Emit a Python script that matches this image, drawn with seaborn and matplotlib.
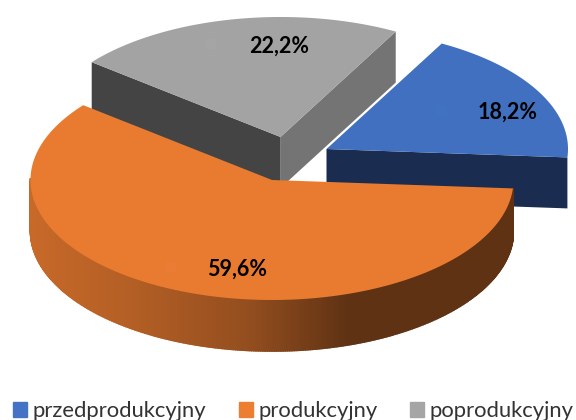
import numpy as np
import matplotlib
matplotlib.use("Agg")
import matplotlib.pyplot as plt
from matplotlib.colors import to_rgb
from matplotlib.patches import Patch
import seaborn as sns

categories = ["przedprodukcyjny", "produkcyjny", "poprodukcyjny"]
shares = [18.2, 59.6, 22.2]
labels = ["18,2%", "59,6%", "22,2%"]
face_colors = ["#4472C4", "#ED7D31", "#A5A5A5"]
top_colors = ["#4170C0", "#E97B30", "#A3A3A3"]
key_colors = ["#4072C2", "#EA7D33", "#A5A5A5"]
wall_colors = {"blue": "#1A2C50", "grey_right": "#747474", "grey_left": "#444444"}
start_angle = 61.5
centers = [(326.5, 149), (272, 180), (280.5, 137)]
depth = 51
rx, ry = 241.5, 120
label_pos = [(508, 112), (237, 269), (279, 46)]
key_pos = [(441, 111), (171, 267), (211, 44)]

sns.set_theme(style="white")
plt.rcParams["font.family"] = ["Lato", "DejaVu Sans"]
fig, ax = plt.subplots(figsize=(5.76, 4.20), dpi=100)
ax.set_position([0, 0, 1, 1])
ax.set_xlim(0, 576)
ax.set_ylim(420, 0)
ax.axis("off")


def pt(c, t):
    t = np.radians(t)
    return c[0] + rx * np.cos(t), c[1] - ry * np.sin(t)


def mix(col, k):
    return tuple(np.clip(np.array(to_rgb(col)) * k, 0, 1))


def rim_k(t):
    x = np.cos(np.radians(t))
    return np.interp(x, [-1, -0.59, -0.09, 0.32, 1], [0.84, 0.76, 0.62, 0.40, 0.40])


edges = start_angle - np.cumsum([0] + shares) * 3.6
layer = {2: 1, 0: 2, 1: 3}
for i in [2, 0, 1]:
    a0, a1 = edges[i], edges[i + 1]
    c = centers[i]
    z = layer[i]
    ts = np.linspace(a0, a1, 400)
    e0, e1 = pt(c, a0), pt(c, a1)
    if i == 0:
        ax.fill([c[0], e1[0], e1[0], c[0]], [c[1], e1[1], e1[1] + depth, c[1] + depth],
                color=wall_colors["blue"], lw=0, zorder=z)
    if i == 2:
        ax.fill([c[0], e1[0], e1[0], c[0]], [c[1], e1[1], e1[1] + depth, c[1] + depth],
                color=wall_colors["grey_right"], lw=0, zorder=z)
        ax.fill([c[0], e0[0], e0[0], c[0]], [c[1], e0[1], e0[1] + depth, c[1] + depth],
                color=wall_colors["grey_left"], lw=0, zorder=z)
    if i == 1:
        for t0, t1 in zip(ts[:-1], ts[1:]):
            if np.sin(np.radians((t0 + t1) / 2)) < 0.02:
                p0, p1 = pt(c, t0), pt(c, t1)
                ax.fill([p0[0], p1[0], p1[0], p0[0]],
                        [p0[1], p1[1], p1[1] + depth, p0[1] + depth],
                        color=mix(face_colors[i], rim_k(t0)), lw=1.2, zorder=z)
    xs, ys = pt(c, ts)
    ax.fill(np.r_[c[0], xs], np.r_[c[1], ys], color=top_colors[i], lw=0, zorder=z + 0.5)
    ax.scatter(*key_pos[i], marker="s", s=50, color=key_colors[i], lw=0, zorder=z + 0.6)

for txt, p in zip(labels, label_pos):
    ax.text(p[0], p[1], txt, fontsize=15.5, fontweight="bold", color="black",
            ha="center", va="center", zorder=10)

handles = [Patch(color=c, label=n) for c, n in zip(face_colors, categories)]
ax.legend(handles=handles, loc="lower center", bbox_to_anchor=(0.509, -0.05), ncol=3,
          frameon=False, fontsize=15.85, handlelength=0.63, handleheight=0.63,
          handletextpad=0.25, columnspacing=1.5, labelcolor="#333333")
fig.savefig("out.png", dpi=100)
